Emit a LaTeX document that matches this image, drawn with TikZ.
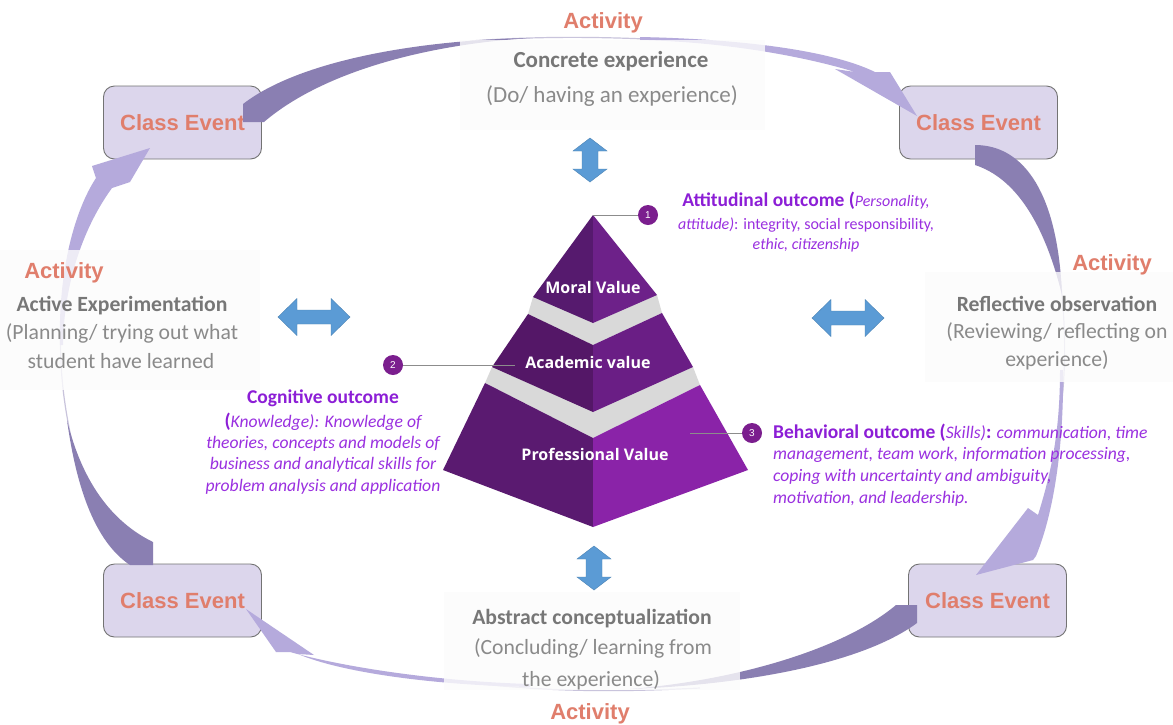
\documentclass[tikz,border=0pt]{standalone}
\usepackage{fontspec}
\setmainfont{Carlito}
\newfontfamily\arialfont{Liberation Sans}
\newfontfamily\opensans{Open Sans}
\definecolor{eventtxt}{HTML}{E07E6C}
\definecolor{eventfill}{HTML}{DCD6EC}
\definecolor{arcdark}{HTML}{8A7FB2}
\definecolor{arclight}{HTML}{B5AADC}
\definecolor{arcline}{HTML}{C9C4DC}
\definecolor{stagehead}{HTML}{777777}
\definecolor{stagetxt}{HTML}{8A8A8A}
\definecolor{outviolet}{HTML}{8C1ED6}
\definecolor{outtext}{HTML}{9A30E0}
\definecolor{arrowblue}{HTML}{5B9BD5}
\definecolor{pyrgray}{HTML}{D9D9D9}
\definecolor{pyrLa}{HTML}{561A6E}
\definecolor{pyrRa}{HTML}{6D2189}
\definecolor{pyrLb}{HTML}{541767}
\definecolor{pyrRb}{HTML}{6A1E85}
\definecolor{pyrLc}{HTML}{5A1A70}
\definecolor{pyrRc}{HTML}{8A23A8}
\definecolor{dotfill}{HTML}{7B1E8E}
\newcommand\outhead[1]{{\fontsize{19.5}{22}\selectfont\bfseries\upshape\color{outviolet}#1}}
\tikzset{
  classbox/.style={draw=black!55,line width=.9pt,fill=eventfill,rounded corners=11pt,minimum width=158pt,minimum height=73pt,inner sep=0pt,text=eventtxt,font=\arialfont\bfseries\fontsize{22}{26}\selectfont},
  activity/.style={anchor=base,inner sep=0pt,text=eventtxt,font=\arialfont\bfseries\fontsize{22}{26}\selectfont},
  stagebold/.style={anchor=base,inner sep=0pt,text=stagehead,font=\fontsize{21.7}{24}\selectfont\bfseries},
  stageline/.style={anchor=base,inner sep=0pt,text=stagetxt,font=\fontsize{21.7}{24}\selectfont},
  backdrop/.style={fill=black!1.2,fill opacity=.8},
  outline/.style={anchor=base,inner sep=0pt,text=outtext,font=\fontsize{17.6}{20}\selectfont\itshape},
  smallout/.style={outline,font=\fontsize{16}{19}\selectfont\itshape},
  pyrlabel/.style={anchor=base,inner sep=0pt,text=white,font=\opensans\bfseries\fontsize{16}{18}\selectfont},
  numdot/.style={circle,fill=dotfill,minimum size=20pt,inner sep=0pt,text=white,font=\arialfont\fontsize{10}{12}\selectfont},
  leader/.style={draw=black!45,line width=.8pt},
  darkarc/.style={fill=arcdark},
  lightarc/.style={fill=arclight},
  thinarc/.style={draw=arcline,line width=1.2pt},
  bluearrow/.style={fill=arrowblue,draw=arrowblue!85!black,line width=.4pt}
}
\begin{document}
\begin{tikzpicture}[x=1pt,y=-1pt]
\useasboundingbox (0,0) rectangle (1173,724);
\fill[white] (0,0) rectangle (1173,724);

\node[classbox] (ceTL) at (182.5,122.5) {Class Event};
\node[classbox] (ceTR) at (978.5,122.5) {Class Event};
\node[classbox] (ceBL) at (182.5,600.5) {Class Event};
\node[classbox] (ceBR) at (987.5,600.5) {Class Event};

\draw[thinarc] (470,41) .. controls (540,36) and (610,36) .. (700,42);
\draw[thinarc] (1058,260) .. controls (1066,320) and (1066,360) .. (1062,400);
\draw[thinarc] (700,688) .. controls (620,692) and (560,692) .. (480,684);
\draw[thinarc] (75,455) .. controls (62,400) and (58,360) .. (62,300);

\fill[darkarc] (264,122) -- (243,122) -- (243,104) .. controls (300,60) and (420,40) .. (530,38) .. controls (420,45) and (320,74) .. (264,122) -- cycle;
\fill[lightarc] (640,37) .. controls (740,39) and (830,50) .. (875,72) -- (890,72) -- (917,116) -- (835,69) -- (855,72) .. controls (810,58) and (730,42) .. (640,40) -- cycle;
\fill[darkarc] (975,165) -- (975,145) .. controls (1025,145) and (1058,195) .. (1062,295) .. controls (1044,222) and (1015,178) .. (975,165) -- cycle;
\fill[lightarc] (1063,370) .. controls (1064,440) and (1055,510) .. (1036,556) -- (1033,560) -- (976,575) -- (1028,508) -- (1038,515) .. controls (1052,470) and (1060,430) .. (1060,370) -- cycle;
\fill[darkarc] (896,605) -- (917,605) -- (917,623) .. controls (860,665) and (740,685) .. (630,689) .. controls (740,680) and (845,648) .. (896,605) -- cycle;
\fill[lightarc] (530,687) .. controls (430,685) and (340,672) .. (298,654) -- (314,655) -- (246,609) -- (276,652) -- (290,652) .. controls (340,666) and (430,681) .. (530,684) -- cycle;
\fill[darkarc] (130,565) -- (153,565) -- (153,542) .. controls (112,522) and (82,482) .. (67,420) .. controls (78,500) and (100,545) .. (130,565) -- cycle;
\fill[lightarc] (60,345) .. controls (58,270) and (75,210) .. (96,178) -- (92,166) -- (150,148) -- (130,182) -- (112,188) .. controls (85,225) and (64,280) .. (63,345) -- cycle;

\fill[backdrop] (460,40) rectangle (765,130);
\fill[backdrop] (0,250) rectangle (260,390);
\fill[backdrop] (925,272) rectangle (1173,382);
\fill[backdrop] (444,592) rectangle (740,690);

\node[activity] (actT) at (603,28) {Activity};
\node[stagebold,font=\fontsize{23}{26}\selectfont\bfseries] (ceT1) at (611,67) {Concrete experience};
\node[stageline,font=\fontsize{23}{26}\selectfont] (ceT2) at (612,102) {(Do/ having an experience)};

\node[activity] (actL) at (64,278) {Activity};
\node[stagebold] (aeL1) at (122,311) {Active Experimentation};
\node[stageline] (aeL2) at (122,339) {(Planning/ trying out what};
\node[stageline] (aeL3) at (121,368) {student have learned};

\node[activity] (actR) at (1112,270) {Activity};
\node[stagebold] (roR1) at (1057,311) {Reflective observation};
\node[stageline] (roR2) at (1057,338) {(Reviewing/ reflecting on};
\node[stageline] (roR3) at (1057,366) {experience)};

\node[stagebold] (acB1) at (592,624) {Abstract conceptualization};
\node[stageline] (acB2) at (593,654) {(Concluding/ learning from};
\node[stageline] (acB3) at (591,686) {the experience)};
\node[activity] (actB) at (590,719) {Activity};

\begin{scope}[shift={(590,160)}]
\draw[bluearrow] (0,-22) -- (17,-9) -- (8,-9) -- (8,9) -- (17,9) -- (0,22) -- (-17,9) -- (-8,9) -- (-8,-9) -- (-17,-9) -- cycle;
\end{scope}
\begin{scope}[shift={(594,568)}]
\draw[bluearrow] (0,-22) -- (17,-9) -- (8,-9) -- (8,9) -- (17,9) -- (0,22) -- (-17,9) -- (-8,9) -- (-8,-9) -- (-17,-9) -- cycle;
\end{scope}
\begin{scope}[shift={(314,317)}]
\draw[bluearrow] (-36,0) -- (-17,-18.5) -- (-17,-7) -- (17,-7) -- (17,-18.5) -- (36,0) -- (17,18.5) -- (17,7) -- (-17,7) -- (-17,18.5) -- cycle;
\end{scope}
\begin{scope}[shift={(848,318)}]
\draw[bluearrow] (-36,0) -- (-17,-18.5) -- (-17,-7) -- (17,-7) -- (17,-18.5) -- (36,0) -- (17,18.5) -- (17,7) -- (-17,7) -- (-17,18.5) -- cycle;
\end{scope}

\fill[pyrgray] (485,383) -- (492,367) -- (693,367) -- (700,385) -- (593,438) -- cycle;
\fill[pyrLc] (485,383) -- (593,438) -- (593,527) -- (443,470) -- cycle;
\fill[pyrRc] (593,438) -- (700,385) -- (748,470) -- (593,527) -- cycle;
\fill[pyrgray] (528,314) -- (533,297) -- (657,295) -- (662,313) -- (593,345) -- cycle;
\fill[pyrLb] (528,314) -- (593,345) -- (593,412) -- (492,367) -- cycle;
\fill[pyrRb] (593,345) -- (662,313) -- (693,367) -- (593,412) -- cycle;
\fill[pyrLa] (593,215) -- (593,323) -- (533,297) -- cycle;
\fill[pyrRa] (593,215) -- (657,295) -- (593,323) -- cycle;

\node[pyrlabel] (moral) at (593,293) {Moral Value};
\node[pyrlabel] (academic) at (588,368) {Academic value};
\node[pyrlabel] (professional) at (595,460) {Professional Value};

\coordinate (p1) at (593,215);
\coordinate (p2) at (515,365);
\coordinate (p3) at (690,433);
\node[numdot] (n1) at (648,215) {1};
\node[numdot] (n2) at (393,365) {2};
\node[numdot] (n3) at (752,433) {3};
\draw[leader] (p1) -- (n1);
\draw[leader] (n2) -- (p2);
\draw[leader] (p3) -- (n3);

\node[smallout] (att1) at (806,206) {\outhead{Attitudinal outcome (}Personality,};
\node[smallout] (att2) at (806,229) {attitude)\upshape{:} integrity, social responsibility,};
\node[smallout] (att3) at (806,249) {ethic, citizenship};

\node[outline] (cog1) at (323,403) {\outhead{Cognitive outcome}};
\node[outline] (cog2) at (323,427) {\outhead{(}Knowledge): Knowledge of};
\node[outline] (cog3) at (323,448) {theories, concepts and models of};
\node[outline] (cog4) at (323,469) {business and analytical skills for};
\node[outline] (cog5) at (323,491) {problem analysis and application};

\node[outline,anchor=base west] (beh1) at (773,438) {\outhead{Behavioral outcome (}Skills)\outhead{:} communication, time};
\node[outline,anchor=base west] (beh2) at (773,459) {management, team work, information processing,};
\node[outline,anchor=base west] (beh3) at (773,481) {coping with uncertainty and ambiguity,};
\node[outline,anchor=base west] (beh4) at (773,503) {motivation, and leadership.};
\end{tikzpicture}
\end{document}
